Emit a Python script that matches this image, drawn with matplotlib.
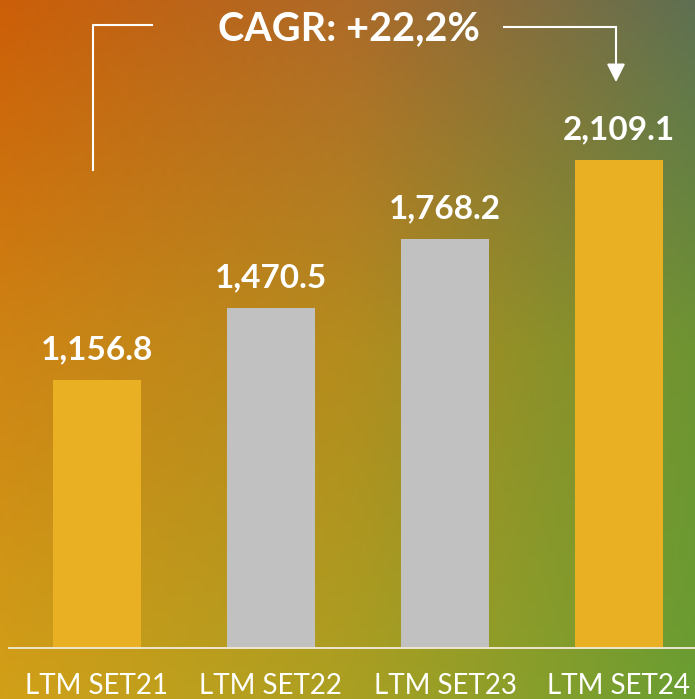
import numpy as np
import matplotlib.pyplot as plt
from matplotlib.colors import to_rgb

# data
periods = ['LTM SET21', 'LTM SET22', 'LTM SET23', 'LTM SET24']
values = [1156.8, 1470.5, 1768.2, 2109.1]
value_labels = ['1,156.8', '1,470.5', '1,768.2', '2,109.1']
bar_colors = ['#EAB024', '#C1C1C1', '#C1C1C1', '#EAB024']
cagr_text = 'CAGR: +22,2%'

# background gradient control colours (rows top->bottom, cols left->right)
grad = [['#CC5E08', '#AE6A28', '#5E7052'],
        ['#CE8414', '#B48C1E', '#6E9432'],
        ['#D2A018', '#AAA022', '#6A9E32']]

W, H = 695, 699
fig = plt.figure(figsize=(W / 100, H / 100), dpi=100)
ax = fig.add_axes([0, 0, 1, 1])

xlim = (-0.557, 3.437)
ylim = (-220, 2800)
ax.set_xlim(*xlim)
ax.set_ylim(*ylim)
ax.axis('off')

# build the gradient image
ctrl = np.array([[to_rgb(c) for c in row] for row in grad])
gx = np.linspace(0, 1, W)
gy = np.linspace(0, 1, H)
rows = np.zeros((3, W, 3))
for r in range(3):
    for ch in range(3):
        rows[r, :, ch] = np.interp(gx, [0, 0.5, 1], ctrl[r, :, ch])
img = np.zeros((H, W, 3))
for ch in range(3):
    for j in range(W):
        img[:, j, ch] = np.interp(gy, [0, 0.5, 1], rows[:, j, ch])
ax.imshow(img, extent=(xlim[0], xlim[1], ylim[0], ylim[1]), aspect='auto', zorder=0, origin='upper')

x = np.arange(len(values))
ax.bar(x, values, width=0.505, color=bar_colors, zorder=2)
ax.axhline(0, xmin=0.013, xmax=1, color='#EDE6CF', lw=1.4, zorder=3)

for xi, v, lab in zip(x, values, value_labels):
    ax.annotate(lab, (xi, v), xytext=(0, 15), textcoords='offset points',
                ha='center', va='baseline', color='white', fontsize=24,
                fontweight='bold', family='Lato')

for xi, p in zip(x, periods):
    ax.text(xi, -199, p, ha='center', va='baseline', color='white',
            fontsize=20, fontweight='normal', family='Lato')

# CAGR bracket
ax.text(1.45, 2627, cagr_text, ha='center', va='baseline', color='white',
        fontsize=28.5, fontweight='bold', family='Lato')
ax.plot([0.316, -0.023, -0.023], [2691, 2691, 2065], color='white', lw=1.5, zorder=4)
ax.plot([2.339, 2.983], [2682, 2682], color='white', lw=1.5, zorder=4)
ax.annotate('', xy=(2.983, 2445), xytext=(2.983, 2682),
            arrowprops=dict(arrowstyle='-|>,head_length=1.1,head_width=0.55',
                            color='white', lw=1.5, mutation_scale=10,
                            shrinkA=0, shrinkB=0), zorder=4)

fig.savefig('out.png', dpi=100)
